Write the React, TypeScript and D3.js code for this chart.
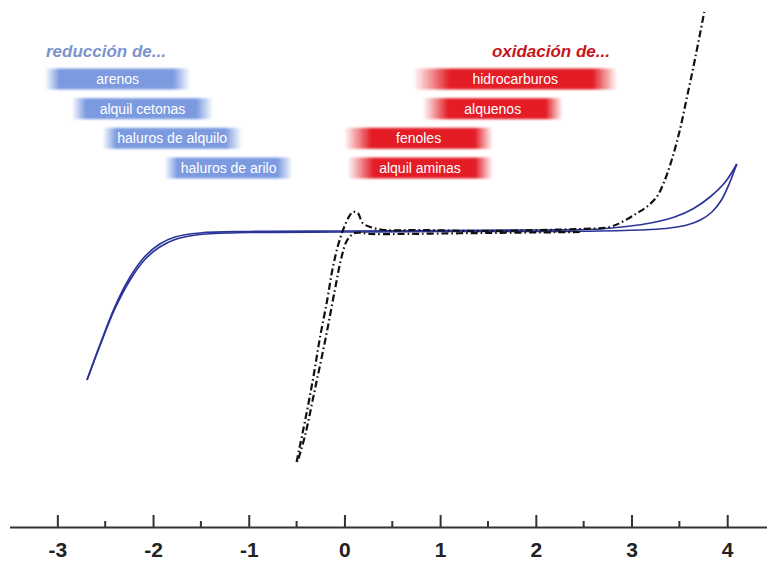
import React, { useEffect, useRef } from "react";
import * as d3 from "d3";

// x axis (potential, V)
const xTicks = [-3, -2, -1, 0, 1, 2, 3, 4];
const xMinorTicks = [-2.5, -1.5, -0.5, 0.5, 1.5, 2.5, 3.5];

// blue trace [V, current a.u.] - scan out and back
const blueForward = [
  [-2.69, -15.0], [-2.56, -11.6], [-2.4, -7.7], [-2.24, -4.7], [-2.09, -2.7],
  [-1.93, -1.4], [-1.77, -0.7], [-1.51, -0.3], [-1.0, -0.15], [0, -0.1],
  [1, -0.05], [2, 0], [2.67, 0.1], [2.95, 0.35], [3.2, 0.7], [3.45, 1.3],
  [3.64, 2.1], [3.82, 3.3], [3.98, 4.8], [4.1, 6.6],
];
const blueReverse = [
  [4.1, 6.6], [4.02, 4.6], [3.94, 3.0], [3.84, 1.8], [3.72, 1.0], [3.58, 0.5],
  [3.4, 0.2], [3.2, 0.05], [2.67, -0.1], [2, -0.15], [1, -0.15], [0, -0.2],
  [-1.0, -0.25], [-1.51, -0.45], [-1.77, -0.95], [-1.93, -1.7], [-2.09, -3.0],
  [-2.24, -5.0], [-2.4, -7.9], [-2.56, -11.7], [-2.69, -15.0],
];

// black dash-dot trace
const blackForward = [
  [-0.5, -23.2], [-0.41, -19.0], [-0.33, -15.0], [-0.26, -11.0], [-0.18, -7.0],
  [-0.12, -3.7], [-0.05, -1.0], [0.04, 1.2], [0.09, 1.8], [0.14, 1.7],
  [0.19, 0.7], [0.27, 0.3], [0.42, 0.0], [0.79, 0.0], [1.42, -0.1],
  [2.04, 0.0], [2.46, 0.1], [2.77, 0.3], [2.92, 0.9], [3.06, 1.7],
  [3.17, 2.4], [3.27, 3.4], [3.34, 4.8], [3.42, 7.0], [3.5, 9.8],
  [3.58, 13.3], [3.67, 17.4], [3.76, 21.8],
];
const blackReverse = [
  [2.46, -0.2], [1.42, -0.3], [0.58, -0.4], [0.27, -0.4], [0.11, -0.3],
  [0.03, -1.0], [-0.03, -2.7], [-0.1, -6.0], [-0.2, -11.0], [-0.31, -16.0],
  [-0.41, -20.5], [-0.49, -23.2],
];

// potential windows
const reductionLabels = ["arenos", "alquil cetonas", "haluros de alquilo", "haluros de arilo"];
const reductionStart = [-3.13, -2.85, -2.53, -1.88];
const reductionEnd = [-1.61, -1.37, -1.07, -0.54];
const oxidationLabels = ["hidrocarburos", "alquenos", "fenoles", "alquil aminas"];
const oxidationStart = [0.72, 0.82, 0.0, 0.03];
const oxidationEnd = [2.85, 2.28, 1.55, 1.55];

const W = 767;
const H = 561;

const Chart = () => {
  const ref = useRef<SVGSVGElement>(null);

  useEffect(() => {
    const svg = d3.select(ref.current);
    svg.selectAll("*").remove();

    const x = d3.scaleLinear().domain([-3.5, 4.42]).range([9.5, 767.4]);
    const y = d3.scaleLinear().domain([-25, 22]).range([480, 10]);
    const row = d3.scalePoint().domain(["0", "1", "2", "3"]).range([79, 168]);
    const barH = 21;

    const defs = svg.append("defs");
    const makeGrad = (id: string, color: string, a: number, b: number) => {
      const g = defs.append("linearGradient").attr("id", id);
      g.append("stop").attr("offset", 0).attr("stop-color", color).attr("stop-opacity", 0);
      g.append("stop").attr("offset", a).attr("stop-color", color).attr("stop-opacity", 1);
      g.append("stop").attr("offset", b).attr("stop-color", color).attr("stop-opacity", 1);
      g.append("stop").attr("offset", 1).attr("stop-color", color).attr("stop-opacity", 0);
    };
    makeGrad("gBlue", "#7b9ae0", 0.1, 0.88);
    makeGrad("gRed", "#e31e26", 0.18, 0.88);
    const f = defs.append("filter").attr("id", "soft")
      .attr("x", "-10%").attr("y", "-40%").attr("width", "120%").attr("height", "180%");
    f.append("feGaussianBlur").attr("stdDeviation", 1.3);

    // titles
    svg.append("text")
      .attr("x", 46).attr("y", 57)
      .attr("font-family", "Liberation Sans, Arial, sans-serif")
      .attr("font-size", 17).attr("font-weight", "bold").attr("font-style", "italic")
      .attr("fill", "#7d93cf")
      .text("reducción de...");
    svg.append("text")
      .attr("x", 610).attr("y", 57)
      .attr("text-anchor", "end")
      .attr("font-family", "Liberation Sans, Arial, sans-serif")
      .attr("font-size", 17).attr("font-weight", "bold").attr("font-style", "italic")
      .attr("fill", "#c4161c")
      .text("oxidación de...");

    // bars
    const drawBars = (labels: string[], start: number[], end: number[], grad: string) => {
      const g = svg.append("g");
      labels.forEach((lab, i) => {
        const cy = row(String(i)) as number;
        g.append("rect")
          .attr("x", x(start[i]))
          .attr("y", cy - barH / 2)
          .attr("width", x(end[i]) - x(start[i]))
          .attr("height", barH)
          .attr("fill", `url(#${grad})`)
          .attr("filter", "url(#soft)");
        g.append("text")
          .attr("x", (x(start[i]) + x(end[i])) / 2)
          .attr("y", cy + 5)
          .attr("text-anchor", "middle")
          .attr("font-family", "Liberation Sans, Arial, sans-serif")
          .attr("font-size", 14)
          .attr("fill", "#ffffff")
          .text(lab);
      });
    };
    drawBars(reductionLabels, reductionStart, reductionEnd, "gBlue");
    drawBars(oxidationLabels, oxidationStart, oxidationEnd, "gRed");

    // curves
    const line = d3.line<number[]>()
      .x((d) => x(d[0]))
      .y((d) => y(d[1]))
      .curve(d3.curveCatmullRom.alpha(0.5));

    [blueForward, blueReverse].forEach((s) => {
      svg.append("path")
        .attr("d", line(s))
        .attr("fill", "none")
        .attr("stroke", "#2b3598")
        .attr("stroke-width", 1.7);
    });
    [blackForward, blackReverse].forEach((s) => {
      svg.append("path")
        .attr("d", line(s))
        .attr("fill", "none")
        .attr("stroke", "#111111")
        .attr("stroke-width", 2.2)
        .attr("stroke-dasharray", "7,3,1.6,3");
    });

    // x axis
    const axisY = 527;
    const ax = svg.append("g")
      .attr("transform", `translate(0,${axisY})`)
      .call(
        d3.axisBottom(x)
          .tickValues(xTicks)
          .tickSizeInner(-12)
          .tickSizeOuter(0)
          .tickPadding(15)
          .tickFormat((d) => String(d))
      );
    ax.select(".domain").attr("stroke", "#333").attr("stroke-width", 2.2);
    ax.selectAll(".tick line").attr("stroke", "#333").attr("stroke-width", 2);
    ax.selectAll(".tick text")
      .attr("font-family", "Liberation Sans, Arial, sans-serif")
      .attr("font-size", 21)
      .attr("font-weight", "bold")
      .attr("fill", "#222");

    svg.append("g")
      .selectAll("line")
      .data(xMinorTicks)
      .enter()
      .append("line")
      .attr("x1", (d) => x(d))
      .attr("x2", (d) => x(d))
      .attr("y1", axisY)
      .attr("y2", axisY - 6)
      .attr("stroke", "#333")
      .attr("stroke-width", 2);
  }, []);

  return (
    <svg
      ref={ref}
      width={W}
      height={H}
      style={{ position: "absolute", left: 0, top: 0, display: "block", background: "#fff" }}
    />
  );
};

export default function App() {
  return <Chart />;
}
